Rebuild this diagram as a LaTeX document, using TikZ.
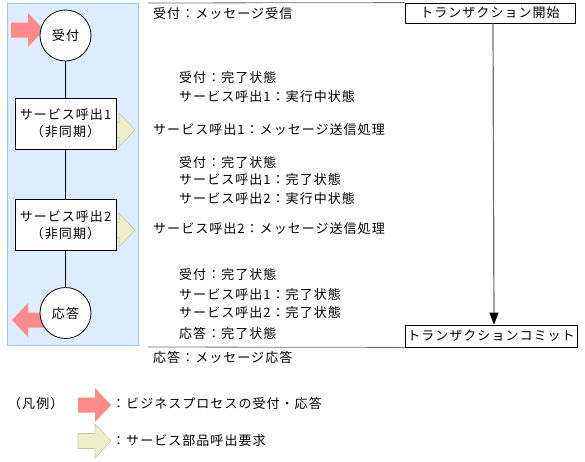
\documentclass[tikz,border=0pt]{standalone}
\usepackage{fontspec}
\setmainfont{Noto Sans CJK JP}[LetterSpace=8]
\usetikzlibrary{arrows.meta}
\definecolor{panelfill}{RGB}{221,236,254}
\definecolor{panelline}{RGB}{150,200,245}
\definecolor{pinkc}{RGB}{255,138,138}
\definecolor{yellowc}{RGB}{238,238,200}
\definecolor{yellowline}{RGB}{200,200,160}
\definecolor{greyline}{RGB}{110,110,110}
\tikzset{
  blockarrow/.pic={\path[pic actions] (0,-7.5) -- (17,-7.5) -- (17,-17) -- (33,0) -- (17,17) -- (17,7.5) -- (0,7.5) -- cycle;},
  pinkarrow/.style={fill=pinkc},
  yellowarrow/.style={fill=yellowc, draw=yellowline, line width=0.6pt},
  roundstep/.style={circle, draw, fill=white, line width=0.8pt, minimum size=51pt, inner sep=0pt, font=\fontsize{13}{14}\selectfont},
  callbox/.style={draw, fill=white, line width=0.8pt, minimum width=101pt, minimum height=51pt, inner sep=0pt, align=center, font=\fontsize{13}{17}\selectfont},
  txbox/.style={draw, fill=white, line width=0.8pt, inner sep=0pt, font=\fontsize{13}{14}\selectfont},
  lbl/.style={anchor=west, inner sep=0pt, font=\fontsize{13}{14}\selectfont},
  link/.style={line width=0.8pt},
}
\begin{document}
\begin{tikzpicture}[x=1pt,y=-1pt]
\useasboundingbox (0,0) rectangle (585,461);
% panel
\path[fill=panelfill, draw=panelline, line width=0.8pt] (7.5,3.5) rectangle (138,345);
% block arrows (behind the steps)
\pic[pinkarrow] at (11,30) {blockarrow};
\pic[pinkarrow, rotate=180] at (45,320) {blockarrow};
\pic[yellowarrow] at (102,130) {blockarrow};
\pic[yellowarrow] at (102,230) {blockarrow};
% steps
\node[roundstep] (recv) at (65.5,35.5) {受付};
\node[callbox] (call1) at (65.5,123.5) {サービス呼出1\\（非同期）};
\node[callbox] (call2) at (65.5,225) {サービス呼出2\\（非同期）};
\node[roundstep] (resp) at (65.5,313) {応答};
\draw[link] (recv) -- (call1);
\draw[link] (call1) -- (call2);
\draw[link] (call2) -- (resp);
% transaction boxes
\node[txbox, minimum width=170pt, minimum height=20pt] (start) at (490,13) {トランザクション開始};
\node[txbox, minimum width=172pt, minimum height=22pt] (commit) at (491,336) {トランザクションコミット};
\coordinate (tl) at (148,3);
\coordinate (bl) at (148,347);
\draw[line width=0.8pt, greyline] (tl) -- (start.north west);
\draw[line width=0.8pt, greyline] (bl) -- (commit.south west);
\draw[line width=1.2pt, greyline, -{Triangle[length=12pt,width=9pt,fill=black,color=black]}] ([xshift=3pt]start.south) -- ([xshift=3pt]commit.north);
% texts
\node[lbl] (t1) at (153,14) {受付：メッセージ受信};
\node[lbl] (t2) at (179,78) {受付：完了状態};
\node[lbl] (t3) at (179,97) {サービス呼出1：実行中状態};
\node[lbl] (t4) at (153,130) {サービス呼出1：メッセージ送信処理};
\node[lbl] (t5) at (179,163) {受付：完了状態};
\node[lbl] (t6) at (179,180) {サービス呼出1：完了状態};
\node[lbl] (t7) at (179,199) {サービス呼出2：実行中状態};
\node[lbl] (t8) at (153,229) {サービス呼出2：メッセージ送信処理};
\node[lbl] (t9) at (179,275) {受付：完了状態};
\node[lbl] (t10) at (179,295) {サービス呼出1：完了状態};
\node[lbl] (t11) at (179,313) {サービス呼出2：完了状態};
\node[lbl] (t12) at (179,333) {応答：完了状態};
\node[lbl] (t13) at (153,357) {応答：メッセージ応答};
% legend
\node[lbl] (leg) at (8,404) {（凡例）};
\pic[pinkarrow] at (78,405) {blockarrow};
\pic[yellowarrow] at (78,441) {blockarrow};
\node[lbl] (leg1) at (112,403) {：ビジネスプロセスの受付・応答};
\node[lbl] (leg2) at (112,441) {：サービス部品呼出要求};
\end{tikzpicture}
\end{document}
